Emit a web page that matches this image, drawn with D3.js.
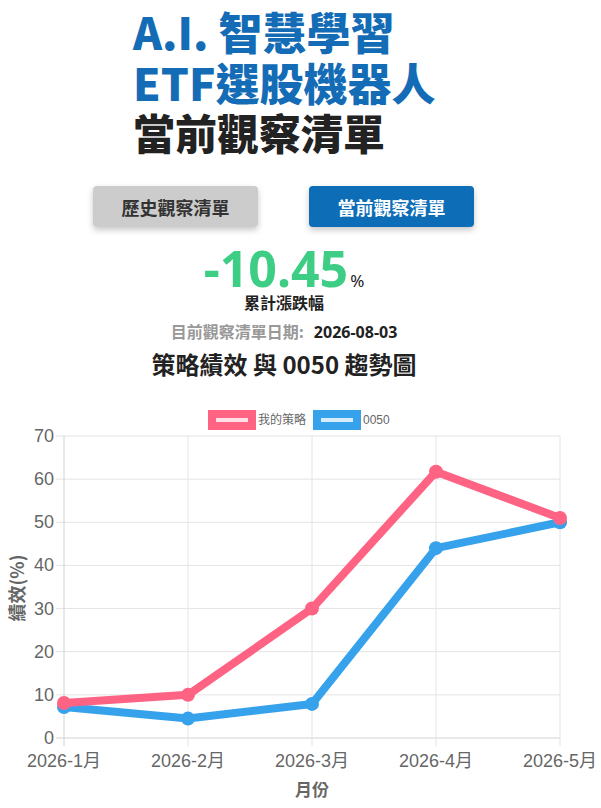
<!DOCTYPE html>
<html>
<head>
<meta charset="utf-8">
<script src="https://cdn.jsdelivr.net/npm/d3@7"></script>
<style>
  body { margin: 0; background: #fff; }
  svg { display: block; }
</style>
</head>
<body>
<svg id="page" width="601" height="808"></svg>
<script>
const months = ['2026-1月', '2026-2月', '2026-3月', '2026-4月', '2026-5月'];
const strategy = [8.1, 10.0, 30.0, 61.7, 51.0];
const etf0050 = [7.2, 4.5, 7.9, 44.0, 50.0];
const yTicks = [0, 10, 20, 30, 40, 50, 60, 70];
const seriesNames = ['我的策略', '0050'];

const cjk = '"Noto Sans CJK TC", "Noto Sans", sans-serif';
const latin = '"Noto Sans", "Noto Sans CJK TC", sans-serif';
const arial = '"Liberation Sans", Arial, "Noto Sans CJK TC", sans-serif';

const svg = d3.select('#page');

const defs = svg.append('defs');
defs
  .append('filter')
  .attr('id', 'shadow')
  .attr('x', '-20%')
  .attr('y', '-30%')
  .attr('width', '140%')
  .attr('height', '170%')
  .append('feDropShadow')
  .attr('dx', 0)
  .attr('dy', 3)
  .attr('stdDeviation', 3)
  .attr('flood-color', '#000')
  .attr('flood-opacity', 0.22);

// header
const titleLines = [
  { text: 'A.I. 智慧學習', y: 50, size: 44, color: '#136cb5' },
  { text: 'ETF選股機器人', y: 101, size: 44, color: '#136cb5' },
  { text: '當前觀察清單', y: 150, size: 42, color: '#222' },
];
titleLines.forEach((l) => {
  svg
    .append('text')
    .attr('x', 133)
    .attr('y', l.y)
    .style('font-family', cjk)
    .style('font-weight', 900)
    .style('font-size', l.size + 'px')
    .attr('fill', l.color)
    .text(l.text);
});

const buttons = [
  { text: '歷史觀察清單', x: 93, fill: '#cccccc', color: '#333' },
  { text: '當前觀察清單', x: 309, fill: '#0e6db7', color: '#fff' },
];
buttons.forEach((b) => {
  svg
    .append('rect')
    .attr('x', b.x)
    .attr('y', 186)
    .attr('width', 165)
    .attr('height', 41)
    .attr('rx', 4)
    .attr('fill', b.fill)
    .attr('filter', 'url(#shadow)');
  svg
    .append('text')
    .attr('x', b.x + 165 / 2)
    .attr('y', 207)
    .attr('text-anchor', 'middle')
    .attr('dominant-baseline', 'central')
    .style('font-family', cjk)
    .style('font-weight', 700)
    .style('font-size', '18px')
    .attr('fill', b.color)
    .text(b.text);
});

const bigNum = svg
  .append('text')
  .attr('x', 284)
  .attr('y', 287)
  .attr('text-anchor', 'middle')
  .style('font-family', latin)
  .style('font-weight', 700);
bigNum
  .append('tspan')
  .style('font-size', '50px')
  .attr('fill', '#3dcd84')
  .text('-10.45');
bigNum
  .append('tspan')
  .attr('dx', 2)
  .style('font-size', '17px')
  .style('font-weight', 400)
  .attr('fill', '#222')
  .text('%');

svg
  .append('text')
  .attr('x', 284)
  .attr('y', 309)
  .attr('text-anchor', 'middle')
  .style('font-family', cjk)
  .style('font-weight', 700)
  .style('font-size', '16px')
  .attr('fill', '#222')
  .text('累計漲跌幅');

const dateLine = svg
  .append('text')
  .attr('x', 284)
  .attr('y', 338)
  .attr('text-anchor', 'middle')
  .style('font-family', cjk)
  .style('font-weight', 700)
  .style('font-size', '16px');
dateLine.append('tspan').attr('fill', '#999').text('目前觀察清單日期:');
dateLine
  .append('tspan')
  .attr('dx', 10)
  .attr('fill', '#222')
  .style('font-family', latin)
  .text('2026-08-03');

svg
  .append('text')
  .attr('x', 284)
  .attr('y', 374)
  .attr('text-anchor', 'middle')
  .style('font-family', cjk)
  .style('font-weight', 700)
  .style('font-size', '24px')
  .attr('fill', '#222')
  .text('策略績效 與 0050 趨勢圖');

// chart
const plot = { left: 64, right: 560, top: 436, bottom: 738 };
const x = d3.scalePoint().domain(months).range([plot.left, plot.right]);
const y = d3.scaleLinear().domain([0, 70]).range([plot.bottom, plot.top]);
const gridColor = '#e4e4e4';

const chart = svg.append('g');

chart
  .selectAll('.hgrid')
  .data(yTicks)
  .join('line')
  .attr('x1', plot.left - 8)
  .attr('x2', plot.right)
  .attr('y1', (d) => y(d))
  .attr('y2', (d) => y(d))
  .attr('stroke', (d) => (d === 0 ? '#d2d2d2' : gridColor))
  .attr('stroke-width', 1);

chart
  .selectAll('.vgrid')
  .data(months)
  .join('line')
  .attr('x1', (d) => x(d))
  .attr('x2', (d) => x(d))
  .attr('y1', plot.top)
  .attr('y2', plot.bottom + 8)
  .attr('stroke', (d, i) => (i === 0 ? '#d2d2d2' : gridColor))
  .attr('stroke-width', 1);

chart
  .selectAll('.ytick')
  .data(yTicks)
  .join('text')
  .attr('x', plot.left - 10)
  .attr('y', (d) => y(d))
  .attr('text-anchor', 'end')
  .attr('dominant-baseline', 'central')
  .style('font-family', arial)
  .style('font-size', '18px')
  .attr('fill', '#666')
  .text((d) => d);

chart
  .selectAll('.xtick')
  .data(months)
  .join('text')
  .attr('x', (d) => x(d))
  .attr('y', 767)
  .attr('text-anchor', 'middle')
  .style('font-family', arial)
  .style('font-size', '18px')
  .attr('fill', '#666')
  .text((d) => d);

chart
  .append('text')
  .attr('transform', 'translate(16,588) rotate(-90)')
  .attr('text-anchor', 'middle')
  .attr('dominant-baseline', 'central')
  .style('font-family', cjk)
  .style('font-weight', 700)
  .style('font-size', '18px')
  .attr('fill', '#666')
  .text('績效(%)');

chart
  .append('text')
  .attr('x', 312)
  .attr('y', 788)
  .attr('text-anchor', 'middle')
  .attr('dominant-baseline', 'central')
  .style('font-family', cjk)
  .style('font-weight', 700)
  .style('font-size', '17px')
  .attr('fill', '#666')
  .text('月份');

const series = [
  { name: seriesNames[0], values: strategy, color: '#ff6384', light: '#ffe0e6' },
  { name: seriesNames[1], values: etf0050, color: '#36a2eb', light: '#d7ecfb' },
];

const line = d3
  .line()
  .x((d, i) => x(months[i]))
  .y((d) => y(d));

// draw second dataset first so the strategy line sits on top
series
  .slice()
  .reverse()
  .forEach((s) => {
    chart
      .append('path')
      .datum(s.values)
      .attr('d', line)
      .attr('fill', 'none')
      .attr('stroke', s.color)
      .attr('stroke-width', 8)
      .attr('stroke-linejoin', 'round');
    chart
      .selectAll(null)
      .data(s.values)
      .join('circle')
      .attr('cx', (d, i) => x(months[i]))
      .attr('cy', (d) => y(d))
      .attr('r', 7)
      .attr('fill', s.color);
  });

// legend
const legendPos = [
  { box: 212, text: 258 },
  { box: 317, text: 363 },
];
series.forEach((s, i) => {
  chart
    .append('rect')
    .attr('x', legendPos[i].box)
    .attr('y', 414)
    .attr('width', 40)
    .attr('height', 12)
    .attr('fill', s.light)
    .attr('stroke', s.color)
    .attr('stroke-width', 8);
  chart
    .append('text')
    .attr('x', legendPos[i].text)
    .attr('y', 420)
    .attr('dominant-baseline', 'central')
    .style('font-family', arial)
    .style('font-size', '12px')
    .attr('fill', '#666')
    .text(s.name);
});
</script>
</body>
</html>
